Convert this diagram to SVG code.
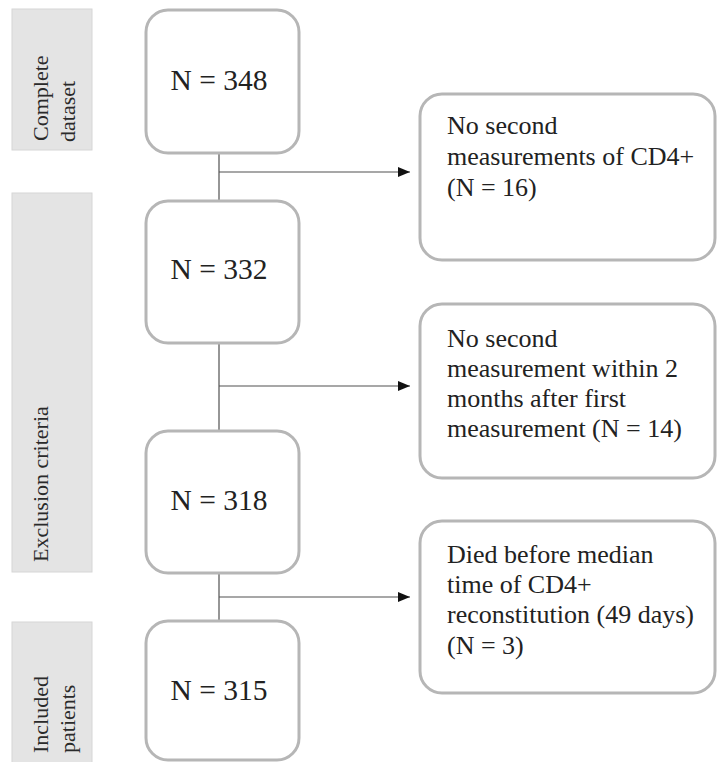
<svg xmlns="http://www.w3.org/2000/svg" width="718" height="762" viewBox="0 0 718 762">
<style>
.bar{fill:#e4e4e4;stroke:#d6d6d6;stroke-width:1}
.box{fill:#ffffff;stroke:#b6b6b6;stroke-width:3}
.lbl{font-family:"Liberation Serif",serif;font-size:22px;fill:#2a2a2a}
.n{font-family:"Liberation Serif",serif;font-size:29.5px;fill:#222;text-anchor:middle}
.t{font-family:"Liberation Serif",serif;font-size:26px;fill:#222}
.ln{stroke:#505050;stroke-width:1.2;fill:none}
</style>
<defs>
<marker id="ah" markerWidth="12" markerHeight="10" refX="12" refY="5" orient="auto" markerUnits="userSpaceOnUse">
<path d="M0,0 L12,5 L0,10 Z" fill="#111"/>
</marker>
</defs>
<rect width="718" height="762" fill="#ffffff"/>
<g id="stage-complete">
<rect class="bar" x="12" y="9" width="80" height="141"/>
<text class="lbl" transform="translate(48,141) rotate(-90)">Complete</text>
<text class="lbl" transform="translate(75,142) rotate(-90)">dataset</text>
</g>
<g id="stage-exclusion">
<rect class="bar" x="12" y="193" width="80" height="379"/>
<text class="lbl" transform="translate(48,562) rotate(-90)">Exclusion criteria</text>
</g>
<g id="stage-included">
<rect class="bar" x="12" y="622" width="80" height="145"/>
<text class="lbl" transform="translate(48,753) rotate(-90)">Included</text>
<text class="lbl" transform="translate(75,753) rotate(-90)">patients</text>
</g>
<g id="connectors">
<line class="ln" x1="219" y1="153" x2="219" y2="201"/>
<line class="ln" x1="219" y1="343" x2="219" y2="431"/>
<line class="ln" x1="219" y1="573" x2="219" y2="621"/>
<line class="ln" x1="219" y1="172" x2="410" y2="172" marker-end="url(#ah)"/>
<line class="ln" x1="219" y1="386" x2="410" y2="386" marker-end="url(#ah)"/>
<line class="ln" x1="219" y1="597" x2="410" y2="597" marker-end="url(#ah)"/>
</g>
<g id="n348">
<rect class="box" x="146" y="10" width="153" height="143" rx="22"/>
<text class="n" x="219" y="90">N = 348</text>
</g>
<g id="n332">
<rect class="box" x="146" y="201" width="153" height="142" rx="22"/>
<text class="n" x="219" y="279">N = 332</text>
</g>
<g id="n318">
<rect class="box" x="146" y="431" width="153" height="142" rx="22"/>
<text class="n" x="219" y="510">N = 318</text>
</g>
<g id="n315">
<rect class="box" x="146" y="621" width="153" height="139" rx="22"/>
<text class="n" x="219" y="700">N = 315</text>
</g>
<g id="excl1">
<rect class="box" x="420" y="94" width="295" height="166" rx="22"/>
<text class="t" x="447" y="134">No second</text>
<text class="t" x="447" y="165">measurements of CD4+</text>
<text class="t" x="447" y="196">(N = 16)</text>
</g>
<g id="excl2">
<rect class="box" x="420" y="304" width="295" height="174" rx="22"/>
<text class="t" x="447" y="347">No second</text>
<text class="t" x="447" y="377">measurement within 2</text>
<text class="t" x="447" y="407">months after first</text>
<text class="t" x="447" y="437">measurement (N = 14)</text>
</g>
<g id="excl3">
<rect class="box" x="420" y="521" width="295" height="172" rx="22"/>
<text class="t" x="447" y="563">Died before median</text>
<text class="t" x="447" y="593">time of CD4+</text>
<text class="t" x="447" y="623">reconstitution (49 days)</text>
<text class="t" x="447" y="654">(N = 3)</text>
</g>
</svg>
